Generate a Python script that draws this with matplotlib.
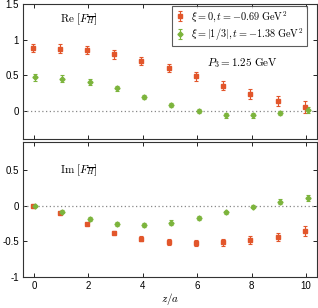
import numpy as np
import matplotlib
matplotlib.use("Agg")
import matplotlib.pyplot as plt

plt.rcParams['mathtext.fontset'] = 'cm'
plt.rcParams['font.family'] = ['Liberation Sans', 'DejaVu Sans']

z = np.arange(11)

# Re part
re_xi0 = [0.88, 0.87, 0.85, 0.79, 0.70, 0.60, 0.48, 0.35, 0.23, 0.13, 0.05]
re_xi0_err = [0.06, 0.06, 0.06, 0.06, 0.06, 0.06, 0.06, 0.06, 0.07, 0.07, 0.09]
re_xi3 = [0.47, 0.45, 0.40, 0.31, 0.19, 0.08, -0.01, -0.07, -0.07, -0.04, 0.01]
re_xi3_err = [0.05, 0.05, 0.04, 0.03, 0.03, 0.03, 0.03, 0.03, 0.03, 0.03, 0.04]

# Im part
im_xi0 = [0.0, -0.10, -0.25, -0.375, -0.46, -0.51, -0.52, -0.51, -0.48, -0.435, -0.35]
im_xi0_err = [0.01, 0.01, 0.015, 0.02, 0.03, 0.04, 0.04, 0.05, 0.05, 0.06, 0.07]
im_xi3 = [0.0, -0.08, -0.18, -0.25, -0.27, -0.235, -0.17, -0.09, -0.01, 0.06, 0.115]
im_xi3_err = [0.01, 0.02, 0.03, 0.03, 0.03, 0.03, 0.03, 0.02, 0.02, 0.03, 0.04]

red = '#e2562b'
green = '#7cb43c'
lab0 = r'$\xi=0, t=-0.69\ \mathrm{GeV}^2$'
lab3 = r'$\xi=|1/3|, t=-1.38\ \mathrm{GeV}^2$'

fig = plt.figure(figsize=(3.18, 3.08), dpi=100)
ax1 = fig.add_axes([0.0723, 0.549, 0.9247, 0.438])
ax2 = fig.add_axes([0.0723, 0.101, 0.9247, 0.438])

def draw(ax, y0, e0, y3, e3):
    ax.axhline(0, color='#888888', ls=(0, (1, 2)), lw=0.9)
    ax.errorbar(z - 0.05, y0, yerr=e0, fmt='s', ms=3.0, color=red, ecolor=red,
                elinewidth=0.8, capsize=1.5, capthick=0.8, label=lab0)
    ax.errorbar(z + 0.05, y3, yerr=e3, fmt='D', ms=2.6, color=green, ecolor=green,
                elinewidth=0.8, capsize=1.5, capthick=0.8, label=lab3)
    ax.set_xlim(-0.4, 10.4)
    ax.set_xticks(range(0, 11, 2))
    ax.tick_params(direction='in', top=True, right=True, labelsize=7, length=3,
                   width=0.6, pad=3)
    for s in ax.spines.values():
        s.set_linewidth(0.8)
        s.set_color('#333333')

draw(ax1, re_xi0, re_xi0_err, re_xi3, re_xi3_err)
draw(ax2, im_xi0, im_xi0_err, im_xi3, im_xi3_err)

ax1.set_ylim(-0.4, 1.5)
ax1.set_yticks([0, 0.5, 1, 1.5])
ax1.set_yticklabels(['0', '0.5', '1', '1.5'])
ax1.tick_params(labelbottom=False)
ax2.set_ylim(-1, 0.9)
ax2.set_yticks([-1, -0.5, 0, 0.5])
ax2.set_yticklabels(['-1', '-0.5', '0', '0.5'])

ax1.text(1.65, 1.28, r'$\mathrm{Re}\ [F_{\overline{H}}]$', fontsize=8, ha='center', va='center')
ax2.text(1.65, 0.5, r'$\mathrm{Im}\ [F_{\overline{H}}]$', fontsize=8, ha='center', va='center')
ax1.text(7.65, 0.67, r'$P_3 = 1.25\ \mathrm{GeV}$', fontsize=8, ha='center', va='center')
ax2.set_xlabel(r'$z/a$', fontsize=8, labelpad=0)

leg = ax1.legend(loc='upper right', bbox_to_anchor=(0.965, 0.985), fontsize=7.4,
                 frameon=True, fancybox=False, handlelength=1.0, handletextpad=0.6,
                 borderpad=0.3, labelspacing=0.2, borderaxespad=0)
leg.get_frame().set_edgecolor('#333333')
leg.get_frame().set_linewidth(0.8)

fig.savefig('out.png', dpi=100)
